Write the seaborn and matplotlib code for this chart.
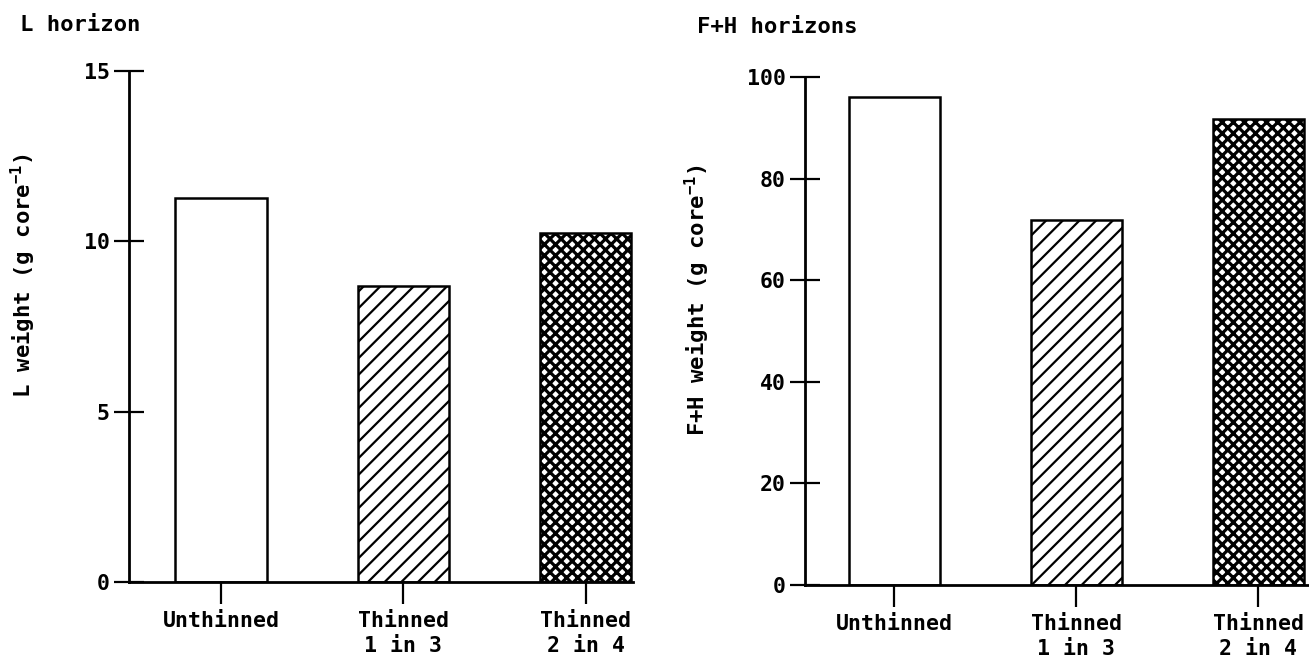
import matplotlib
matplotlib.use("Agg")
import matplotlib.pyplot as plt
import seaborn as sns
import pandas as pd

# ---- data ----
categories = ["Unthinned", "Thinned\n1 in 3", "Thinned\n2 in 4"]
l_weight = [11.27, 8.7, 10.25]
fh_weight = [96.0, 71.9, 91.8]
l_ticks = [0, 5, 10, 15]
l_ticklabels = ["0", "5", "10", "15"]
fh_ticks = [0, 20, 40, 60, 80, 100]
hatches = ["", "//", "xxx"]

sns.set_theme(style="ticks")
plt.rcParams["font.family"] = ["DejaVu Sans Mono", "DejaVu Sans"]
plt.rcParams["font.weight"] = "bold"
plt.rcParams["mathtext.default"] = "regular"
plt.rcParams["text.color"] = "black"
plt.rcParams["axes.labelcolor"] = "black"
plt.rcParams["xtick.color"] = "black"
plt.rcParams["ytick.color"] = "black"
plt.rcParams["hatch.color"] = "black"
plt.rcParams["hatch.linewidth"] = 1.6

W, H = 1309, 660
fig = plt.figure(figsize=(W / 100, H / 100), dpi=100)

ax1 = fig.add_axes([129 / W, (H - 582) / H, 504 / W, (582 - 71) / H])
ax2 = fig.add_axes([805 / W, (H - 585) / H, 504 / W, (585 - 77) / H])

FS = 15.5
FT = 16


def draw(ax, values, yticks, ylim, xlim, yticklabels=None):
    df = pd.DataFrame({"cat": categories, "val": values})
    sns.barplot(data=df, x="cat", y="val", hue="cat", palette=["white"] * 3,
                edgecolor="black", linewidth=1.8, width=0.5, legend=False,
                saturation=1, ax=ax)
    for p, h in zip(ax.patches, hatches):
        p.set_hatch(h)
        p.set_facecolor("white")
        if h.startswith("x") and hasattr(p, "set_hatch_linewidth"):
            p.set_hatch_linewidth(2.3)
    ax.set_ylim(*ylim)
    ax.set_xlim(*xlim)
    ax.set_yticks(yticks)
    if yticklabels is not None:
        ax.set_yticklabels(yticklabels)
    ax.set_xlabel("")
    ax.set_ylabel("")
    for s in ["top", "right"]:
        ax.spines[s].set_visible(False)
    for s in ["left", "bottom"]:
        ax.spines[s].set_linewidth(2.0)
        ax.spines[s].set_color("black")
    ax.tick_params(axis="y", direction="inout", length=22, width=1.6,
                   pad=3, labelsize=FS, colors="black")
    ax.tick_params(axis="x", direction="out", length=16, width=1.6,
                   pad=5, labelsize=FS, colors="black")
    for t in ax.get_xticklabels():
        t.set_linespacing(1.3)
        t.set_fontweight("bold")
    for t in ax.get_yticklabels():
        t.set_fontweight("bold")
    ax.set_facecolor("white")


draw(ax1, l_weight, l_ticks, (0, 15), (-0.505, 2.26), l_ticklabels)
draw(ax2, fh_weight, fh_ticks, (0, 100), (-0.49, 2.28))

fig.text(20 / W, (H - 25) / H, "L horizon", fontsize=FT, fontweight="bold",
         ha="left", va="center", color="black")
fig.text(697 / W, (H - 27) / H, "F+H horizons", fontsize=FT,
         fontweight="bold", ha="left", va="center", color="black")
fig.text(23 / W, (H - 275) / H, r"L weight (g core$^{-1}$)", fontsize=FT,
         fontweight="bold", rotation=90, ha="center", va="center",
         color="black")
fig.text(697 / W, (H - 300) / H, r"F+H weight (g core$^{-1}$)", fontsize=FT,
         fontweight="bold", rotation=90, ha="center", va="center",
         color="black")

fig.savefig("out.png", dpi=100, facecolor="white")
